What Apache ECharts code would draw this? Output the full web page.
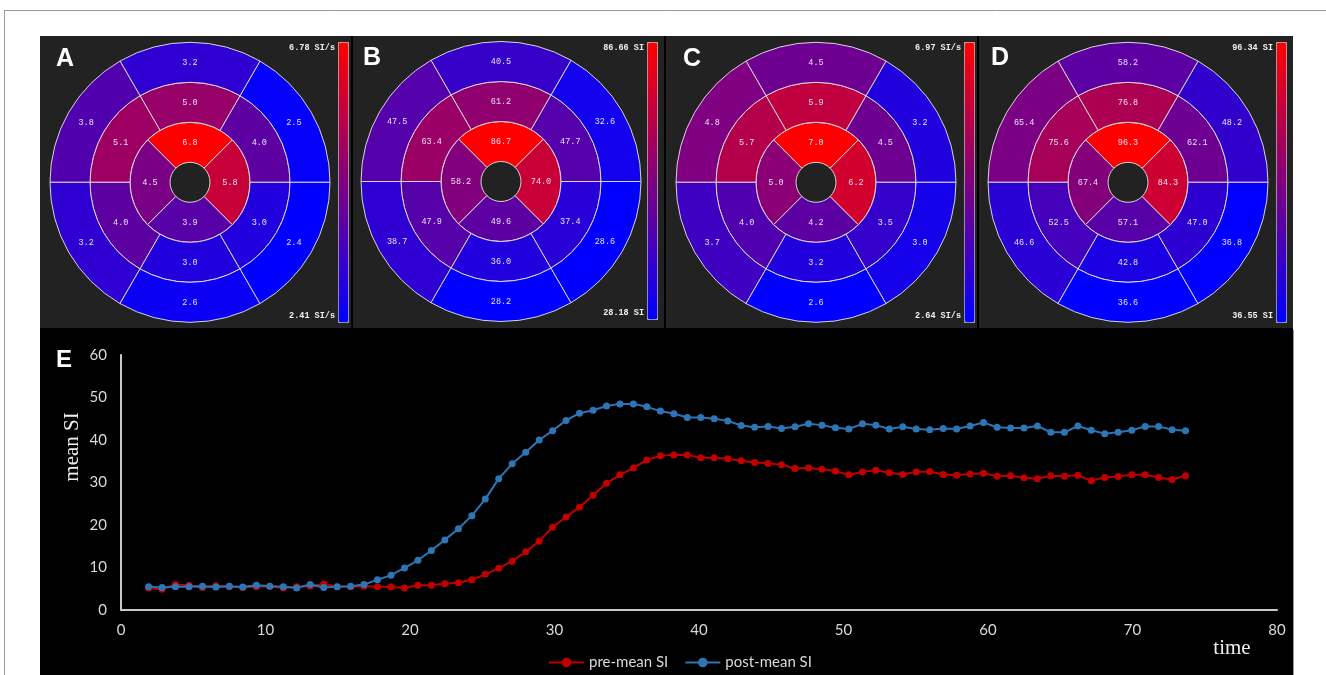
<!DOCTYPE html>
<html><head><meta charset="utf-8">
<script src="https://cdn.jsdelivr.net/npm/echarts@6/dist/echarts.min.js"></script>
<style>html,body{margin:0;padding:0;background:#fff}#c{width:1326px;height:675px}</style>
</head><body><div id="c"></div><script>
// ---------- Bull's-eye data (segments listed counter-clockwise from 3 o'clock) ----------
const panelLetters = ['A', 'B', 'C', 'D'];
const outerBoundsDeg = [0, 60, 120, 180, 240, 300, 360];   // outer & middle ring segment edges
const innerBoundsDeg = [45, 135, 225, 315, 405];           // inner ring segment edges

const aInner  = [6.8, 4.5, 3.9, 5.8];
const aMiddle = [4.0, 5.0, 5.1, 4.0, 3.0, 3.0];
const aOuter  = [2.5, 3.2, 3.8, 3.2, 2.6, 2.4];

const bInner  = [86.7, 58.2, 49.6, 74.0];
const bMiddle = [47.7, 61.2, 63.4, 47.9, 36.0, 37.4];
const bOuter  = [32.6, 40.5, 47.5, 38.7, 28.2, 28.6];

const cInner  = [7.0, 5.0, 4.2, 6.2];
const cMiddle = [4.5, 5.9, 5.7, 4.0, 3.2, 3.5];
const cOuter  = [3.2, 4.5, 4.8, 3.7, 2.6, 3.0];

const dInner  = [96.3, 67.4, 57.1, 84.3];
const dMiddle = [62.1, 76.8, 75.6, 52.5, 42.8, 47.0];
const dOuter  = [48.2, 58.2, 65.4, 46.6, 36.6, 36.8];

const scaleMin  = [2.41, 28.18, 2.64, 36.55];
const scaleMax  = [6.78, 86.66, 6.97, 96.34];
const scaleUnit = ['SI/s', 'SI', 'SI/s', 'SI'];

// ---------- Line chart data ----------
const timeValues = [1.91,2.84,3.77,4.71,5.64,6.57,7.50,8.43,9.37,10.30,11.23,12.16,13.09,14.03,14.96,15.89,16.82,17.75,18.69,19.62,
  20.55,21.48,22.41,23.35,24.28,25.21,26.14,27.07,28.01,28.94,29.87,30.80,31.73,32.67,33.60,34.53,35.46,36.39,37.33,38.26,
  39.19,40.12,41.05,41.99,42.92,43.85,44.78,45.71,46.65,47.58,48.51,49.44,50.37,51.31,52.24,53.17,54.10,55.03,55.97,56.90,
  57.83,58.76,59.69,60.63,61.56,62.49,63.42,64.35,65.29,66.22,67.15,68.08,69.01,69.95,70.88,71.81,72.74,73.67];
const preMeanSI = [5.2,4.9,6.0,5.8,5.3,5.7,5.5,5.3,5.5,5.6, 5.2,5.5,5.6,6.1,5.5,5.5,5.6,5.5,5.4,5.2,
  5.8,5.8,6.2,6.4,7.1,8.4,9.8,11.5,13.7,16.2, 19.5,21.9,24.2,27.0,29.8,31.8,33.4,35.3,36.3,36.5,
  36.5,35.8,35.8,35.6,35.1,34.7,34.5,34.2,33.3,33.4, 33.1,32.7,31.8,32.5,32.9,32.3,31.9,32.5,32.6,31.9,
  31.7,32.0,32.2,31.5,31.6,31.1,30.9,31.6,31.5,31.7, 30.4,31.2,31.4,31.8,31.8,31.2,30.7,31.6];
const postMeanSI = [5.5,5.3,5.5,5.5,5.6,5.4,5.6,5.4,5.8,5.6, 5.5,5.2,6.0,5.3,5.5,5.6,6.0,7.1,8.2,9.9,
  11.7,14.0,16.5,19.1,22.2,26.1,30.9,34.4,37.1,40.0, 42.2,44.6,46.3,47.0,48.0,48.5,48.5,47.8,46.8,46.2,
  45.3,45.3,45.0,44.5,43.4,43.0,43.2,42.7,43.1,43.8, 43.5,42.9,42.6,43.8,43.5,42.6,43.1,42.6,42.4,42.7,
  42.6,43.3,44.1,43.0,42.8,42.8,43.3,41.8,41.8,43.3, 42.3,41.5,41.8,42.3,43.2,43.2,42.4,42.2];
const xTickInterval = 10, yTickInterval = 10;
const seriesNames = ['pre-mean SI', 'post-mean SI'];
const axisTitles = { y: 'mean SI', x: 'time' };

// ---------- layout ----------
const panelCenters = [[190, 182.3], [501, 181.5], [816, 182.3], [1128, 182.3]];
const panelRects = [[40, 36, 311, 292], [353, 36, 311, 292], [666, 36, 311, 292], [979, 36, 314, 292]];
const barLeft = [338, 647, 964, 1276];
const barHeight = [280, 277, 280, 280];
const letterPos = [[56, 59], [363, 58], [683, 59], [991, 58]];

const ringData = [
  [aInner, aMiddle, aOuter], [bInner, bMiddle, bOuter],
  [cInner, cMiddle, cOuter], [dInner, dMiddle, dOuter]
];
function segmentsFor(rings) {
  const d = [];
  rings[0].forEach((v, k) => d.push([0, innerBoundsDeg[k], innerBoundsDeg[k + 1], v]));
  rings[1].forEach((v, k) => d.push([1, outerBoundsDeg[k], outerBoundsDeg[k + 1], v]));
  rings[2].forEach((v, k) => d.push([2, outerBoundsDeg[k], outerBoundsDeg[k + 1], v]));
  return d;
}
function renderSegment(params, api) {
  const ring = api.value(0), a0 = api.value(1), a1 = api.value(2), v = api.value(3);
  const cx = params.coordSys.cx, cy = params.coordSys.cy;
  const pIn = api.coord([ring, a0]);
  const pOut = api.coord([ring + 1, a0]);
  const pEnd = api.coord([ring + 1, a1]);
  const r0 = Math.hypot(pIn[0] - cx, pIn[1] - cy);
  const r = Math.hypot(pOut[0] - cx, pOut[1] - cy);
  const s = Math.atan2(pOut[1] - cy, pOut[0] - cx);
  let e = Math.atan2(pEnd[1] - cy, pEnd[0] - cx);
  while (e >= s - 1e-9) e -= 2 * Math.PI;
  const mid = api.coord([ring + 0.5, (a0 + a1) / 2]);
  return {
    type: 'group',
    children: [
      { type: 'sector', shape: { cx: cx, cy: cy, r0: r0, r: r, startAngle: s, endAngle: e, clockwise: false },
        style: { fill: api.visual('color'), stroke: '#d6d6d6', lineWidth: 1 } },
      { type: 'text', x: mid[0], y: mid[1],
        style: { text: v.toFixed(1), fill: '#e4e2f4', font: '8.5px "Liberation Mono", monospace', align: 'center', verticalAlign: 'middle' } }
    ]
  };
}

const polar = [], angleAxis = [], radiusAxis = [], series = [], visualMap = [];
const graphic = [
  { type: 'line', shape: { x1: 4.5, y1: 10.5, x2: 1326, y2: 10.5 }, style: { stroke: '#999', lineWidth: 1 } },
  { type: 'line', shape: { x1: 4.5, y1: 10.5, x2: 4.5, y2: 675 }, style: { stroke: '#999', lineWidth: 1 } },
  { type: 'rect', shape: { x: 40, y: 36, width: 1253, height: 639 }, style: { fill: '#000' } },
  { type: 'line', shape: { x1: 1293.5, y1: 330, x2: 1293.5, y2: 675 }, style: { stroke: '#9a9a9a', lineWidth: 1 } }
];
panelLetters.forEach((L, i) => {
  polar.push({ center: panelCenters[i], radius: [20, 140] });
  angleAxis.push({ polarIndex: i, type: 'value', min: 0, max: 360, startAngle: 0, clockwise: false, show: false });
  radiusAxis.push({ polarIndex: i, type: 'value', min: 0, max: 3, show: false });
  series.push({ type: 'custom', coordinateSystem: 'polar', polarIndex: i, silent: true,
    data: segmentsFor(ringData[i]), renderItem: renderSegment });
  visualMap.push({ type: 'continuous', seriesIndex: i, dimension: 3, min: scaleMin[i], max: scaleMax[i],
    inRange: { color: ['#0000ff', '#ff0000'] }, calculable: false, hoverLink: false,
    orient: 'vertical', itemWidth: 10, itemHeight: barHeight[i], left: barLeft[i], top: 42,
    padding: 0, borderColor: '#b0b0b0', borderWidth: 1, text: null, showLabel: false });
  const pr = panelRects[i];
  graphic.push({ type: 'rect', shape: { x: pr[0], y: pr[1], width: pr[2], height: pr[3] }, style: { fill: '#222222' } });
  graphic.push({ type: 'text', x: letterPos[i][0], y: letterPos[i][1],
    style: { text: L, fill: '#fff', font: 'bold 25px "Liberation Sans", Arial, sans-serif', verticalAlign: 'middle' } });
  graphic.push({ type: 'text', x: barLeft[i] - 3, y: 48,
    style: { text: scaleMax[i].toFixed(2) + ' ' + scaleUnit[i], fill: '#f2f2f2', font: 'bold 8.5px "Liberation Mono", monospace', align: 'right', verticalAlign: 'middle' } });
  graphic.push({ type: 'text', x: barLeft[i] - 3, y: 42 + barHeight[i] - 6,
    style: { text: scaleMin[i].toFixed(2) + ' ' + scaleUnit[i], fill: '#f2f2f2', font: 'bold 8.5px "Liberation Mono", monospace', align: 'right', verticalAlign: 'middle' } });
});
graphic.push({ type: 'text', x: 56, y: 360,
  style: { text: 'E', fill: '#fff', font: 'bold 24px "Liberation Sans", Arial, sans-serif', verticalAlign: 'middle' } });
graphic.push({ type: 'text', x: 72, y: 447, rotation: Math.PI / 2,
  style: { text: axisTitles.y, fill: '#eeeeee', font: '21px "Liberation Serif", serif', align: 'center', verticalAlign: 'middle' } });
graphic.push({ type: 'text', x: 1232, y: 648,
  style: { text: axisTitles.x, fill: '#eeeeee', font: '21px "Liberation Serif", serif', align: 'center', verticalAlign: 'middle' } });

const lineColors = ['#c00000', '#2e75b6'];
[preMeanSI, postMeanSI].forEach((vals, k) => {
  series.push({ type: 'line', name: seriesNames[k], xAxisIndex: 0, yAxisIndex: 0,
    data: timeValues.map((t, j) => [t, vals[j]]), symbol: 'circle', symbolSize: 7, showAllSymbol: true,
    lineStyle: { color: lineColors[k], width: 2 }, itemStyle: { color: lineColors[k] }, z: 3 + k });
});

const tickLabel = { color: '#d9d9d9', fontSize: 15, fontFamily: 'Lato, sans-serif' };
const option = {
  animation: false,
  backgroundColor: '#ffffff',
  graphic: graphic,
  polar: polar, angleAxis: angleAxis, radiusAxis: radiusAxis,
  visualMap: visualMap,
  grid: { left: 121, right: 49, top: 355, bottom: 65 },
  xAxis: { type: 'value', min: 0, max: 80, interval: xTickInterval,
    axisLine: { lineStyle: { color: '#c8c8c8', width: 2 } }, axisTick: { show: false }, splitLine: { show: false },
    axisLabel: Object.assign({ margin: 13 }, tickLabel) },
  yAxis: { type: 'value', min: 0, max: 60, interval: yTickInterval,
    axisLine: { show: true, lineStyle: { color: '#c8c8c8', width: 2 } }, axisTick: { show: false }, splitLine: { show: false },
    axisLabel: Object.assign({ margin: 14 }, tickLabel) },
  legend: { data: seriesNames, left: 543, top: 650, itemWidth: 35, itemHeight: 12, itemGap: 16,
    textStyle: { color: '#d9d9d9', fontSize: 15, fontFamily: 'Lato, sans-serif' } },
  series: series
};
const chart = echarts.init(document.getElementById('c'), null, { renderer: 'canvas' });
chart.setOption(option);
</script></body></html>
